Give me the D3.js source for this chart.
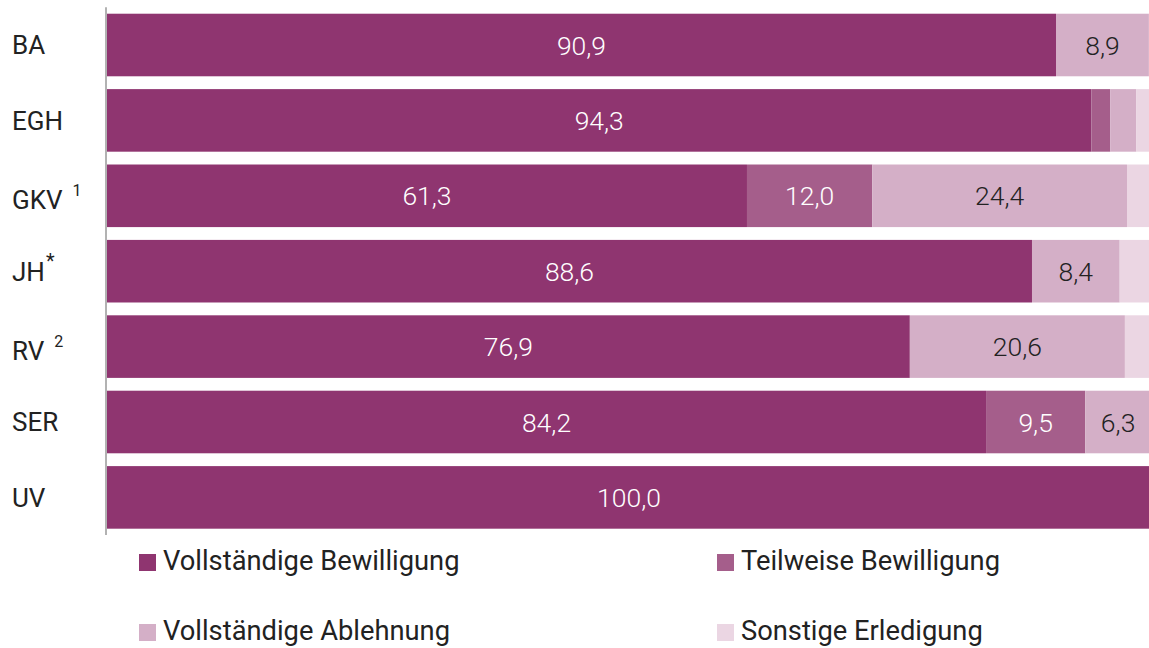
<!DOCTYPE html>
<html><head><meta charset="utf-8">
<script src="https://cdn.jsdelivr.net/npm/d3@7"></script>
<style>body{margin:0;background:#fff}svg{display:block}</style>
</head><body>
<svg id="c" width="1149" height="648"></svg>
<script>
const categories = ["BA","EGH","GKV","JH","RV","SER","UV"];
const superscripts = ["","","1","*","2","",""];
const seriesNames = ["Vollständige Bewilligung","Teilweise Bewilligung","Vollständige Ablehnung","Sonstige Erledigung"];
const vollBew = [90.9, 94.3, 61.3, 88.6, 76.9, 84.2, 100.0];
const teilBew = [0, 1.8, 12.0, 0, 0, 9.5, 0];
const vollAbl = [8.9, 2.5, 24.4, 8.4, 20.6, 6.3, 0];
const sonst   = [0.2, 1.4, 2.3, 3.0, 2.5, 0, 0];

const colors = ["#8f3570","#a55e8b","#d4afc7","#ebd6e3"];
const labelColors = ["#fff","#fff","#222","#222"];
const seriesVals = [vollBew, teilBew, vollAbl, sonst];

const rows = categories.map((c,i)=>{
  const o = {cat:c};
  seriesNames.forEach((s,j)=>o[s]=seriesVals[j][i]);
  return o;
});
const stack = d3.stack().keys(seriesNames)(rows);

const svg = d3.select("#c");
const FONT = "Roboto, 'Noto Sans', sans-serif";
const x = d3.scaleLinear().domain([0,100]).range([107,1151]);
const y = d3.scaleBand().domain(categories).range([7.3,535.1]).paddingInner(0.17).paddingOuter(0.085);

const g = svg.append("g");
stack.forEach((layer,j)=>{
  const lg = g.append("g").attr("fill",colors[j]);
  lg.selectAll("rect").data(layer).join("rect")
    .attr("x",d=>x(d[0])).attr("width",d=>Math.max(0,x(d[1])-x(d[0])))
    .attr("y",d=>y(d.data.cat)).attr("height",y.bandwidth());
  g.append("g").selectAll("text").data(layer.filter(d=>d[1]-d[0]>=5)).join("text")
    .attr("x",d=>(x(d[0])+x(d[1]))/2).attr("y",d=>y(d.data.cat)+y.bandwidth()/2)
    .attr("dy","0.36em").attr("text-anchor","middle")
    .attr("fill",labelColors[j]).attr("font-family",FONT).attr("font-size",26.5).attr("font-weight",300)
    .text(d=>d3.format(".1f")(d[1]-d[0]).replace(".",","));
});

// axis line
svg.append("line").attr("x1",106).attr("x2",106).attr("y1",y.range()[0]).attr("y2",y.range()[1])
  .attr("stroke","#999").attr("stroke-width",1.5);

// category labels
const cl = svg.append("g").selectAll("text").data(categories).join("text")
  .attr("x",12).attr("y",(d,i)=>y(d)+y.bandwidth()/2 + (/[0-9]/.test(superscripts[i])?4:0)).attr("dy","0.36em")
  .attr("font-family",FONT).attr("font-size",26).attr("fill","#222");
cl.append("tspan").text(d=>d);
cl.append("tspan").attr("font-size",(d,i)=>superscripts[i]==="*"?20:16).attr("dy",-13)
  .attr("dx",(d,i)=>superscripts[i]==="*"?1:10)
  .text((d,i)=>superscripts[i]);

// legend
const legPos = [[139,562.5],[717,562.5],[139,632.5],[717,632.5]];
const leg = svg.append("g").selectAll("g").data(seriesNames).join("g")
  .attr("transform",(d,i)=>`translate(${legPos[i][0]},${legPos[i][1]})`);
leg.append("rect").attr("x",0).attr("y",-8.5).attr("width",17).attr("height",17).attr("fill",(d,i)=>colors[i]);
leg.append("text").attr("x",24).attr("y",7.5)
  .attr("font-family",FONT).attr("font-size",27.3).attr("fill","#222").text(d=>d);
</script>
</body></html>
